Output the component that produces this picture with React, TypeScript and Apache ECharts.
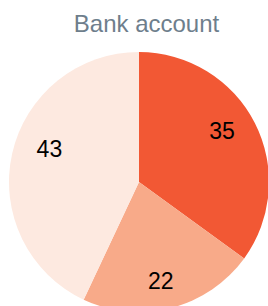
import React, { useEffect, useRef } from "react";
import * as echarts from "echarts";

const titleText = "Bank account";
const categories = ["A", "B", "C"];
const values = [35, 22, 43];
const colors = ["#F25834", "#F8AA89", "#FDE9E0"];
// small style nudges of the value labels (px)
const labelNudges: [number, number][] = [
  [-6, -6],
  [-3, 2],
  [8, -11],
];

export default function App() {
  const ref = useRef<HTMLDivElement>(null);
  useEffect(() => {
    document.body.style.margin = "0";
    const chart = echarts.init(ref.current!, null, { renderer: "svg" });
    const data = categories.map((c, i) => ({
      name: c,
      value: values[i],
      itemStyle: { color: colors[i] },
    }));
    chart.setOption({
      animation: false,
      graphic: [
        {
          type: "text",
          x: 146.5,
          y: 11,
          silent: true,
          style: {
            text: titleText,
            align: "center",
            verticalAlign: "top",
            fontFamily: "Liberation Sans, Arial, sans-serif",
            fontSize: 24,
            fill: "#6E7E8C",
          },
        },
      ],
      series: [
        {
          type: "pie",
          center: [139, 182],
          radius: [0, 130],
          startAngle: 90,
          clockwise: true,
          silent: true,
          label: { show: false },
          labelLine: { show: false },
          itemStyle: { borderWidth: 0 },
          data,
        },
        {
          type: "pie",
          center: [139, 182],
          radius: [64, 130],
          startAngle: 90,
          clockwise: true,
          silent: true,
          itemStyle: { color: "rgba(0,0,0,0)", borderWidth: 0 },
          label: {
            show: true,
            position: "inside",
            formatter: (p: any) => String(p.value),
            fontFamily: "Liberation Sans, Arial, sans-serif",
            fontSize: 23,
            color: "#000000",
          },
          labelLine: { show: false },
          data: categories.map((c, i) => ({
            name: c,
            value: values[i],
            label: { offset: labelNudges[i] },
          })),
        },
      ],
    });
    return () => chart.dispose();
  }, []);
  return <div ref={ref} style={{ width: 268, height: 306 }} />;
}
